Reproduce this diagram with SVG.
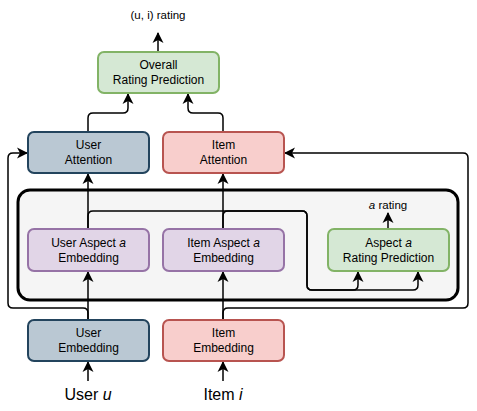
<svg xmlns="http://www.w3.org/2000/svg" width="477" height="411" viewBox="0 0 477 411">
<style>
text{font-family:"Liberation Sans",Arial,sans-serif;fill:#000;text-anchor:middle}
.t12{font-size:12px}
.t11{font-size:11.5px}
.t16{font-size:16px}
.box{stroke-width:2}
.blue{fill:#bac8d3;stroke:#23445d}
.red{fill:#f8cecc;stroke:#b85450}
.green{fill:#d5e8d4;stroke:#82b366}
.purple{fill:#e1d5e7;stroke:#9673a6}
.c{fill:none;stroke:#000;stroke-width:1.5;marker-end:url(#ah)}
</style>
<defs>
<marker id="ah" markerUnits="userSpaceOnUse" markerWidth="12" markerHeight="12" viewBox="0 0 12 12" refX="10" refY="6" orient="auto">
<path d="M0,0.5 L11,6 L0,11.5 L3,6 Z" fill="#000"/>
</marker>
</defs>
<g id="container">
<rect x="18" y="190" width="440" height="110" rx="12" fill="#f5f5f5" stroke="#000" stroke-width="3"/>
</g>
<g id="connectors">
<path class="c" d="M158,52 V33"/>
<path class="c" d="M88,132 V118 Q88,113 93,113 H123 Q128,113 128,108 V94"/>
<path class="c" d="M223,132 V118 Q223,113 218,113 H193 Q188,113 188,108 V94"/>
<path class="c" d="M88,229 V174"/>
<path class="c" d="M223,229 V174"/>
<path class="c" d="M88,229 V216 Q88,211 93,211 H302 Q307,211 307,216 V285 Q307,290 312,290 H353 Q358,290 358,285 V272"/>
<path class="c" d="M223,229 V216 Q223,211 228,211 H302 Q307,211 307,216 V285 Q307,290 312,290 H413 Q418,290 418,285 V272"/>
<path class="c" d="M388,229 V213"/>
<path class="c" d="M88,320 V272"/>
<path class="c" d="M223,320 V272"/>
<path class="c" d="M88,320 V313 Q88,308 83,308 H13 Q8,308 8,303 V158 Q8,153 13,153 H27"/>
<path class="c" d="M223,320 V313 Q223,308 228,308 H463 Q468,308 468,303 V158 Q468,153 463,153 H285"/>
<path class="c" d="M88,381 V362"/>
<path class="c" d="M223,381 V362"/>
</g>
<g id="uirating"><text class="t11" x="158" y="19">(u, i) rating</text></g>
<g id="overall">
<rect class="box green" x="98" y="52" width="121" height="41" rx="6"/>
<text class="t12" x="158.5" y="69">Overall</text>
<text class="t12" x="158.5" y="84">Rating Prediction</text>
</g>
<g id="userAttention">
<rect class="box blue" x="28" y="132" width="121" height="41" rx="6"/>
<text class="t12" x="88.5" y="149">User</text>
<text class="t12" x="88.5" y="164">Attention</text>
</g>
<g id="itemAttention">
<rect class="box red" x="163" y="132" width="121" height="41" rx="6"/>
<text class="t12" x="223.5" y="149">Item</text>
<text class="t12" x="223.5" y="164">Attention</text>
</g>
<g id="userAspect">
<rect class="box purple" x="28" y="229" width="121" height="42" rx="6"/>
<text class="t12" x="88.5" y="247">User Aspect <tspan font-style="italic">a</tspan></text>
<text class="t12" x="88.5" y="262">Embedding</text>
</g>
<g id="itemAspect">
<rect class="box purple" x="163" y="229" width="121" height="42" rx="6"/>
<text class="t12" x="223.5" y="247">Item Aspect <tspan font-style="italic">a</tspan></text>
<text class="t12" x="223.5" y="262">Embedding</text>
</g>
<g id="aspectRating">
<rect class="box green" x="328" y="229" width="121" height="42" rx="6"/>
<text class="t12" x="388.5" y="247">Aspect <tspan font-style="italic">a</tspan></text>
<text class="t12" x="388.5" y="262">Rating Prediction</text>
</g>
<g id="arating"><text class="t11" x="388" y="209"><tspan font-style="italic">a</tspan> rating</text></g>
<g id="userEmbedding">
<rect class="box blue" x="28" y="320" width="121" height="41" rx="6"/>
<text class="t12" x="88.5" y="337">User</text>
<text class="t12" x="88.5" y="352">Embedding</text>
</g>
<g id="itemEmbedding">
<rect class="box red" x="163" y="320" width="121" height="41" rx="6"/>
<text class="t12" x="223.5" y="337">Item</text>
<text class="t12" x="223.5" y="352">Embedding</text>
</g>
<g id="userU"><text class="t16" x="88" y="400">User <tspan font-style="italic">u</tspan></text></g>
<g id="itemI"><text class="t16" x="223" y="400">Item <tspan font-style="italic">i</tspan></text></g>
</svg>
